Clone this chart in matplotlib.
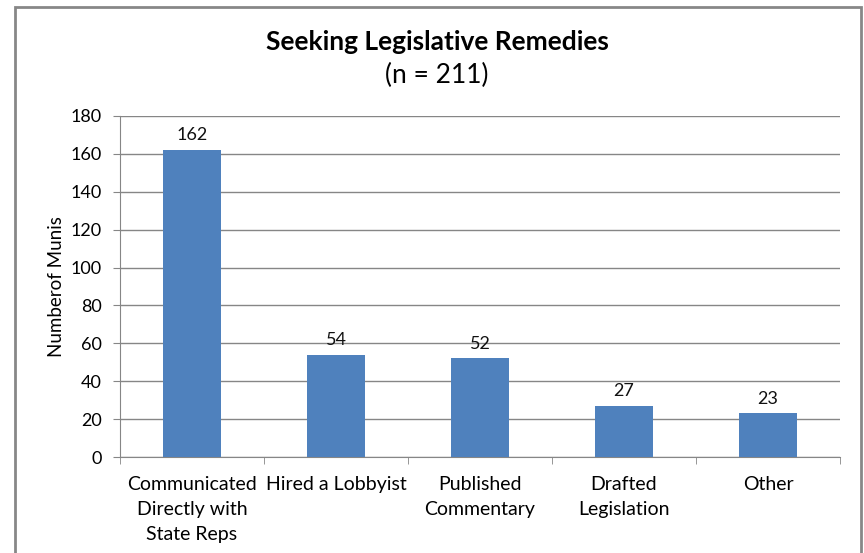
import matplotlib.pyplot as plt
from matplotlib.patches import Rectangle

categories = ['Communicated\nDirectly with\nState Reps', 'Hired a Lobbyist',
              'Published\nCommentary', 'Drafted\nLegislation', 'Other']
counts = [162, 54, 52, 27, 23]
yticks = [0, 20, 40, 60, 80, 100, 120, 140, 160, 180]

plt.rcParams['font.family'] = ['Lato', 'DejaVu Sans']

fig = plt.figure(figsize=(8.64, 5.53), dpi=100)
ax = fig.add_axes([120 / 864, 96 / 553, 720 / 864, 341 / 553])

x = list(range(len(categories)))
ax.bar(x, counts, width=0.4, color='#4f81bd', zorder=3)
for xi, v in zip(x, counts):
    ax.text(xi, v + 3.5, str(v), ha='center', va='bottom', fontsize=13, color='#111111')

ax.set_xlim(-0.5, len(categories) - 0.5)
ax.set_ylim(0, 180)
ax.set_yticks(yticks)
ax.set_xticks(x)
ax.set_xticklabels(categories, fontsize=14, linespacing=1.55)
ax.set_xticks([i - 0.5 for i in range(len(categories) + 1)], minor=True)
ax.tick_params(axis='x', which='major', length=0, pad=14)
ax.tick_params(axis='x', which='minor', length=5, color='#868686')
ax.tick_params(axis='y', length=5, color='#868686', labelsize=13, pad=8)
ax.yaxis.grid(True, color='#868686', linewidth=1, zorder=0)

for side in ['top', 'right']:
    ax.spines[side].set_visible(False)
for side in ['left', 'bottom']:
    ax.spines[side].set_color('#868686')
ax.set_ylabel('Numberof Munis', fontsize=13.5, labelpad=4)

fig.text(437 / 864, 1 - 42 / 553, 'Seeking Legislative Remedies', ha='center', va='center',
         fontsize=19, fontweight='bold')
fig.text(437 / 864, 1 - 75 / 553, '(n = 211)', ha='center', va='center', fontsize=19)

fig.patches.append(Rectangle((15 / 864, -0.05), 846 / 864, 1.05 - 7 / 553,
                             transform=fig.transFigure, fill=False,
                             edgecolor='#878787', linewidth=2))

fig.savefig('out.png', dpi=100)
